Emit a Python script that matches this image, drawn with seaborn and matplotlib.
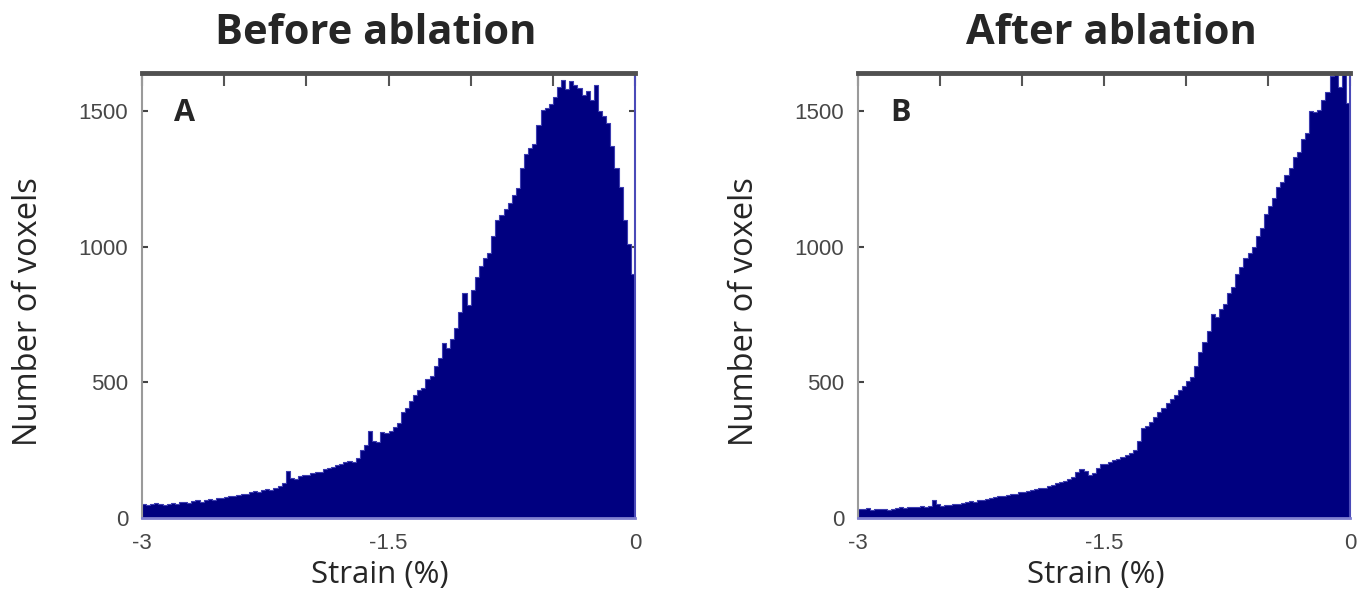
import numpy as np
import pandas as pd
import matplotlib
matplotlib.use("Agg")
import matplotlib.pyplot as plt
import seaborn as sns

# bin layout (strain, %), 0.025 wide bins from -3 to 0
bin_width = 0.025
bin_edges = [round(-3.0 + i * bin_width, 4) for i in range(121)]
bin_centers = [round(e + bin_width / 2, 4) for e in bin_edges[:-1]]

# voxel counts per bin
before_counts = [
    52, 48, 50, 55, 50, 47, 53, 56, 52, 58, 60, 57, 62, 65, 60, 66, 70, 68, 72, 75,
    78, 82, 80, 86, 90, 88, 94, 98, 96, 104, 108, 105, 112, 118, 128, 175, 148, 142, 155, 158,
    160, 165, 170, 168, 180, 185, 188, 195, 198, 205, 210, 205, 222, 250, 270, 322, 285, 280, 318, 315,
    320, 335, 350, 390, 405, 430, 455, 470, 480, 512, 525, 560, 590, 645, 625, 660, 700, 760, 830, 785,
    840, 890, 930, 960, 975, 1040, 1100, 1115, 1140, 1160, 1190, 1215, 1290, 1340, 1365, 1380, 1450, 1505, 1510, 1525,
    1550, 1590, 1615, 1580, 1612, 1595, 1585, 1560, 1575, 1540, 1595, 1500, 1480, 1455, 1370, 1290, 1220, 1100, 1010, 900,
]
after_counts = [
    35, 32, 36, 30, 34, 33, 35, 31, 34, 38, 40, 38, 42, 41, 40, 44, 42, 43, 66, 50,
    46, 48, 47, 52, 50, 55, 58, 62, 60, 66, 68, 70, 72, 78, 80, 82, 84, 88, 90, 94,
    96, 100, 104, 108, 112, 110, 118, 122, 128, 132, 138, 142, 150, 170, 182, 175, 160, 165, 185, 198,
    200, 205, 212, 218, 225, 232, 240, 252, 285, 330, 340, 355, 372, 390, 405, 425, 440, 455, 470, 485,
    505, 520, 560, 610, 650, 690, 750, 740, 770, 790, 830, 850, 900, 925, 960, 975, 1000, 1040, 1070, 1120,
    1150, 1180, 1220, 1240, 1265, 1290, 1330, 1350, 1395, 1420, 1500, 1495, 1505, 1540, 1570, 1630, 1640, 1590, 1635, 1530,
]

panel_titles = ["Before ablation", "After ablation"]
panel_letters = ["A", "B"]
y_ticks = [0, 500, 1000, 1500]

sns.set_style("white")
plt.rcParams["font.family"] = ["Open Sans", "DejaVu Sans"]

fig = plt.figure(figsize=(13.7, 5.97), dpi=100)
ax_a = fig.add_axes([142 / 1370, 1 - 518 / 597, 493 / 1370, 445 / 597])
ax_b = fig.add_axes([858 / 1370, 1 - 518 / 597, 492 / 1370, 445 / 597])

navy = "#000080"
for ax, counts, title, letter, title_x in zip(
    [ax_a, ax_b], [before_counts, after_counts], panel_titles, panel_letters, [0.475, 0.516]
):
    df = pd.DataFrame({"strain": bin_centers, "voxels": counts})
    sns.histplot(data=df, x="strain", weights="voxels", bins=bin_edges, element="step",
                 fill=True, color=navy, alpha=1, edgecolor="#3c3cb0", linewidth=0.8, ax=ax)
    ax.set_xlim(-3, 0)
    ax.set_ylim(0, 1640)

    # ticks every 0.5 along the top like the original box axes
    ax.set_xticks(np.arange(-3, 0.01, 0.5))
    ax.set_xticklabels(["-3", "", "", "-1.5", "", "", "0"], fontfamily="Liberation Sans",
                       fontsize=16, color="#474747")
    ax.set_yticks(y_ticks)
    ax.set_yticklabels([str(v) for v in y_ticks], fontfamily="Liberation Sans",
                       fontsize=16, color="#474747")
    ax.tick_params(axis="x", direction="in", top=True, bottom=False, length=9, width=1.5,
                   color="#555555", pad=11)
    ax.tick_params(axis="y", direction="in", left=True, right=True, length=4, width=1.5,
                   color="#444444", pad=10)

    ax.spines["top"].set_color("#505050")
    ax.spines["top"].set_linewidth(3.5)
    ax.spines["left"].set_color("#9a9a9a")
    ax.spines["left"].set_linewidth(1.5)
    ax.spines["right"].set_color("#4a4ab8")
    ax.spines["right"].set_linewidth(1.5)
    ax.spines["bottom"].set_color("#8080d0")
    ax.spines["bottom"].set_linewidth(2)

    ax.set_title(title, fontsize=30, fontweight="bold", x=title_x, pad=21)
    ax.set_xlabel("Strain (%)", fontsize=22.5, va="center")
    ax.xaxis.set_label_coords(0.483, -0.127)
    ax.set_ylabel("Number of voxels", fontsize=23.5, va="center")
    ax.yaxis.set_label_coords(-0.231, 0.463)
    ax.text(0.087, 0.909, letter, transform=ax.transAxes, fontsize=22,
            fontweight="bold", ha="center", va="center")

fig.savefig("out.png", dpi=100)
